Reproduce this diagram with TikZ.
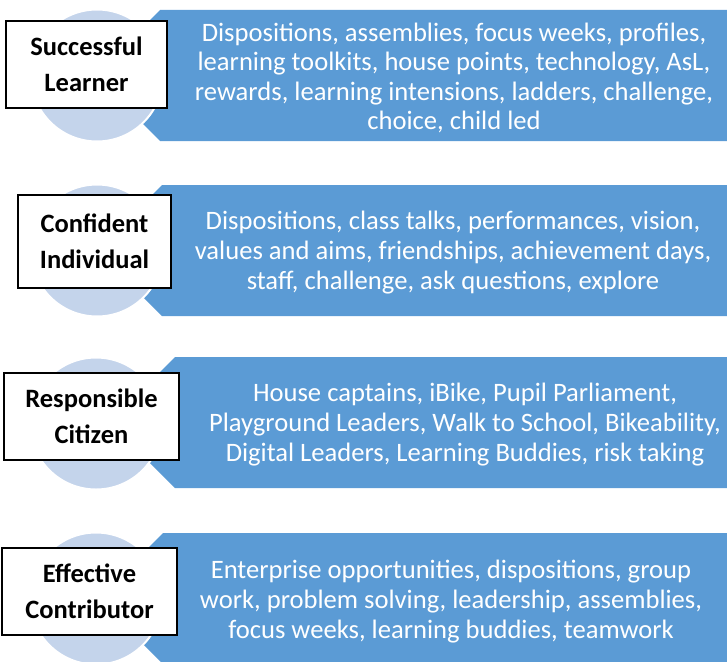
\documentclass[tikz,border=0pt]{standalone}
\usepackage{fontspec}
\setmainfont{Carlito}
\definecolor{arrowblue}{RGB}{91,155,213}
\definecolor{circblue}{RGB}{196,212,235}
\tikzset{
  band/.style={fill=arrowblue, draw=none},
  disc/.style={circle, fill=circblue, draw=white, line width=2pt, inner sep=0pt, minimum size=132pt},
  labelbox/.style={draw=black, line width=1.6pt, fill=white, inner sep=0pt, align=center,
     font=\fontsize{26.5}{35.5}\selectfont\bfseries},
  bandtext/.style={text=white, align=center, inner sep=0pt, font=\fontsize{26.6}{30}\selectfont},
  bandtextfour/.style={text=white, align=center, inner sep=0pt, font=\fontsize{26.6}{29.5}\selectfont}
}
\newcommand{\bandrow}[3]{% top, bottom, corner x
  \path[band] (#3-65.5,{(#1+#2)/2}) -- (#3,#1) -- (740,#1) -- (740,#2) -- (#3,#2) -- cycle;
}
\begin{document}
\begin{tikzpicture}[x=1pt,y=-1pt]
\useasboundingbox (0,0) rectangle (727,661);
\clip (0,0) rectangle (727,661);
% row 1
\bandrow{10}{141}{160}
\node[disc] (c1) at (97,75.5) {};
\node[labelbox, minimum width=161pt, minimum height=87pt] (b1) at (86.5,64.5) {Successful\\Learner};
\node[bandtextfour] (t1) at (454,78) {Dispositions, assemblies, focus weeks, profiles,\\learning toolkits, house points, technology, AsL,\\rewards, learning intensions, ladders, challenge,\\choice, child led};
% row 2
\bandrow{185}{316}{162}
\node[disc] (c2) at (97,250.5) {};
\node[labelbox, minimum width=153pt, minimum height=93pt] (b2) at (94.5,241.5) {Confident\\Individual};
\node[bandtext] (t2) at (453,252.5) {Dispositions, class talks, performances, vision,\\values and aims, friendships, achievement days,\\staff, challenge, ask questions, explore};
% row 3
\bandrow{357}{488}{175}
\node[disc] (c3) at (96,423.5) {};
\node[labelbox, minimum width=175pt, minimum height=87pt] (b3) at (91.5,416.5) {Responsible\\Citizen};
\node[bandtext] (t3) at (465,425) {House captains, iBike, Pupil Parliament,\\Playground Leaders, Walk to School, Bikeability,\\Digital Leaders, Learning Buddies, risk taking};
% row 4
\bandrow{533}{664}{163}
\node[disc] (c4) at (96,598.5) {};
\node[labelbox, minimum width=175pt, minimum height=87pt] (b4) at (89.5,591.5) {Effective\\Contributor};
\node[bandtext] (t4) at (451,601.5) {Enterprise opportunities, dispositions, group\\work, problem solving, leadership, assemblies,\\focus weeks, learning buddies, teamwork};
\end{tikzpicture}
\end{document}
